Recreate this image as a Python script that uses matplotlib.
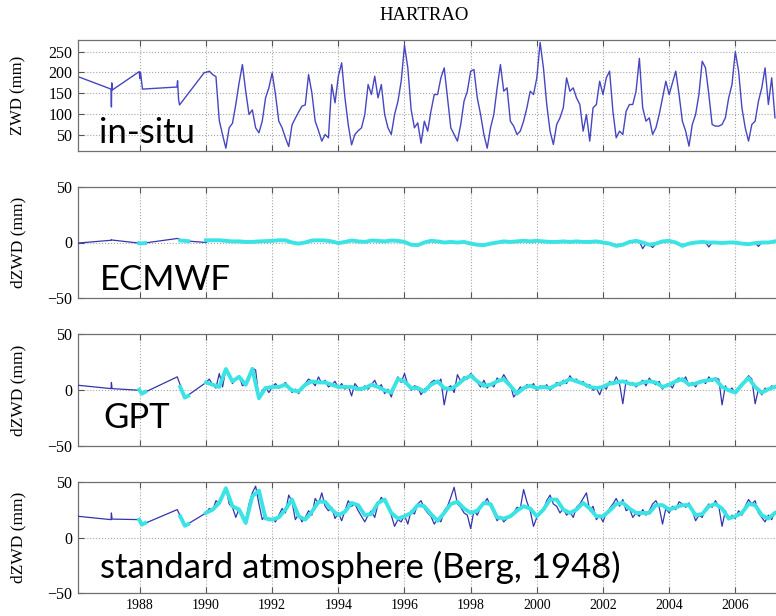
import matplotlib

matplotlib.use("Agg")
import matplotlib.pyplot as plt
import numpy as np

# sample epochs from 1990 on (tenths of a year)
years = [
    1990.0, 1990.1, 1990.2, 1990.3, 1990.4, 1990.5, 1990.6, 1990.7, 1990.8, 1990.9,
    1991.0, 1991.1, 1991.2, 1991.3, 1991.4, 1991.5, 1991.6, 1991.7, 1991.8, 1991.9,
    1992.0, 1992.1, 1992.2, 1992.3, 1992.4, 1992.5, 1992.6, 1992.7, 1992.8, 1992.9,
    1993.0, 1993.1, 1993.2, 1993.3, 1993.4, 1993.5, 1993.6, 1993.7, 1993.8, 1993.9,
    1994.0, 1994.1, 1994.2, 1994.3, 1994.4, 1994.5, 1994.6, 1994.7, 1994.8, 1994.9,
    1995.0, 1995.1, 1995.2, 1995.3, 1995.4, 1995.5, 1995.6, 1995.7, 1995.8, 1995.9,
    1996.0, 1996.1, 1996.2, 1996.3, 1996.4, 1996.5, 1996.6, 1996.7, 1996.8, 1996.9,
    1997.0, 1997.1, 1997.2, 1997.3, 1997.4, 1997.5, 1997.6, 1997.7, 1997.8, 1997.9,
    1998.0, 1998.1, 1998.2, 1998.3, 1998.4, 1998.5, 1998.6, 1998.7, 1998.8, 1998.9,
    1999.0, 1999.1, 1999.2, 1999.3, 1999.4, 1999.5, 1999.6, 1999.7, 1999.8, 1999.9,
    2000.0, 2000.1, 2000.2, 2000.3, 2000.4, 2000.5, 2000.6, 2000.7, 2000.8, 2000.9,
    2001.0, 2001.1, 2001.2, 2001.3, 2001.4, 2001.5, 2001.6, 2001.7, 2001.8, 2001.9,
    2002.0, 2002.1, 2002.2, 2002.3, 2002.4, 2002.5, 2002.6, 2002.7, 2002.8, 2002.9,
    2003.0, 2003.1, 2003.2, 2003.3, 2003.4, 2003.5, 2003.6, 2003.7, 2003.8, 2003.9,
    2004.0, 2004.1, 2004.2, 2004.3, 2004.4, 2004.5, 2004.6, 2004.7, 2004.8, 2004.9,
    2005.0, 2005.1, 2005.2, 2005.3, 2005.4, 2005.5, 2005.6, 2005.7, 2005.8, 2005.9,
    2006.0, 2006.1, 2006.2, 2006.3, 2006.4, 2006.5, 2006.6, 2006.7, 2006.8, 2006.9,
    2007.0, 2007.1, 2007.2,
]

# in-situ ZWD (mm)
insitu_early_years = [1986.13, 1987.13, 1987.14, 1987.15, 1987.17, 1987.98, 1988.0,
                      1988.02, 1988.08, 1989.12, 1989.14, 1989.17, 1989.2, 1989.95]
insitu_early_zwd = [190, 160, 117, 175, 158, 202, 185, 200, 160, 165, 180, 135, 122, 200]
insitu_zwd = [
    200, 203, 195, 190, 85, 50, 18, 67, 78, 123,
    175, 219, 155, 99, 110, 67, 55, 83, 139, 163,
    199, 147, 83, 67, 43, 22, 74, 90, 105, 119,
    122, 195, 151, 83, 60, 35, 51, 43, 171, 127,
    191, 223, 139, 74, 26, 51, 60, 67, 99, 171,
    147, 191, 139, 171, 99, 67, 51, 99, 130, 179,
    265, 211, 111, 67, 79, 30, 83, 59, 107, 147,
    147, 187, 211, 139, 67, 51, 35, 75, 131, 155,
    203, 207, 139, 99, 51, 18, 67, 99, 163, 219,
    155, 163, 83, 71, 51, 59, 83, 115, 155, 147,
    187, 272, 211, 123, 59, 27, 75, 91, 115, 187,
    155, 163, 139, 123, 59, 99, 35, 115, 123, 179,
    147, 187, 203, 107, 43, 59, 51, 107, 123, 123,
    155, 234, 115, 83, 91, 51, 67, 99, 139, 179,
    147, 175, 203, 147, 83, 59, 23, 75, 99, 147,
    227, 211, 147, 75, 71, 71, 75, 91, 139, 171,
    250, 203, 115, 67, 35, 75, 83, 131, 163, 211,
    123, 187, 91,
]

# dZWD (model minus in-situ), thin line, sparse early epochs
diff_early_years = [1986.13, 1987.13, 1987.14, 1987.16, 1988.0, 1988.06, 1989.13, 1989.36]
ecmwf_early = [-0.5, 2.0, 2.6, 2.2, -0.6, -0.8, 3.6, 1.5]
gpt_early = [4.5, 1.5, 7.0, 1.5, 0.0, -3.0, 12.0, -6.5]
stdatm_early = [19, 16, 22, 16.5, 16, 11.5, 25, 10.5]

ecmwf_diff = [
    0, 2, 2, 2, 2, 1.5, 1.5, 1, 1, 1,
    1, 0.5, 0.5, 0.5, 0.5, 0.5, 1, 1, 1.2, 1.5,
    1.5, 2, 2, 2, 2, 1, 0, -1, -1, -0.5,
    0, 1, 1.8, 2, 2, 2, 1.8, 1.5, 1, 0,
    -0.6, 0, 0.5, 1, 1.8, 1.5, 1, 1, 0.5, 1,
    1.8, 1.5, 1.5, 1.2, 1, 1.5, 1.8, 1.5, 1.5, 1,
    0.5, -1, -2, -2.2, -2.4, -1, 0, 1, 1.5, 1,
    1, 0.5, 0, 0, 0.5, 0.5, 0, 0, 0.5, 0.5,
    -1, -1.5, -2, -2.2, -2.4, -1.5, -1, -0.5, 0, 0.5,
    1, 0.5, 0.5, 1, 1, 1, 1.5, 1.5, 1, 1,
    1.5, 1, 1, 0.5, 0.5, 0.5, 0.5, 1, 1, 1,
    0.5, 1, 1, 0.5, 0.5, 0.5, 0.5, 1, 1, 0.5,
    0, -0.5, -1, -2, -3, -2.5, -2, -1, 0.5, 1,
    1.5, 1, -5.5, -1, -2, -4.5, -1, 0, 1, 1.5,
    1.5, 1, 0, -1.5, -3, -2, -1, -0.5, 0, 0,
    0.5, 0.2, -4, 0, 0, 0, -0.5, -0.5, 0, 0,
    0, -0.5, -1, -1, -1.5, -1, -0.5, -3.5, 0, 0,
    0, 0.5, 1,
]
gpt_diff = [
    7, 10, 5, 2, 15, 3, 19, 12, 6, 10,
    13, 4, 6, 9, 20, 18, -8, 0, 3, -2,
    3, 6, 2, 4, 7, 3, -2, 1, -3, 2,
    6, 10, 8, 4, 12, 6, 9, 3, 5, 8,
    2, 6, 1, 4, -5, 6, 2, 0, 4, 1,
    5, 9, 2, 5, -3, 1, -6, 4, 12, 7,
    15, 5, 0, 4, 3, -4, 1, 3, 7, 9,
    6, 10, -13, 2, 4, -2, 14, 8, 12, 10,
    15, 12, 7, 3, 9, 2, 6, 3, 11, 8,
    14, 9, 5, -6, -2, 3, 1, 5, 3, 6,
    0, 4, 2, 5, 0, 3, 7, 4, 9, 6,
    13, 9, 10, 6, 8, 3, 5, 0, 2, -4,
    4, 1, 8, 5, 12, 6, -12, 9, 5, 7,
    3, 6, 9, 4, 11, 7, 5, 8, 1, 5,
    6, 2, 9, 11, 8, 12, 4, 7, 3, 8,
    9, 6, 12, 8, 11, 10, -13, 4, -1, 2,
    -3, 1, 6, 9, 13, 10, -12, 1, -4, 2,
    0, 4, 2,
]
stdatm_diff = [
    22, 26, 24, 33, 30, 38, 45, 30, 27, 18,
    26, 21, 15, 30, 40, 46, 30, 16, 20, 15,
    17, 14, 20, 26, 22, 38, 32, 16, 21, 14,
    18, 24, 20, 35, 30, 40, 28, 24, 27, 17,
    22, 15, 24, 33, 28, 30, 24, 19, 14, 20,
    24, 18, 30, 36, 32, 28, 20, 10, 16, 14,
    20, 12, 24, 21, 30, 33, 26, 22, 19, 12,
    17, 14, 24, 28, 36, 45, 30, 27, 22, 20,
    8, 24, 20, 27, 30, 35, 28, 22, 15, 19,
    14, 17, 20, 22, 27, 26, 43, 32, 24, 10,
    18, 22, 25, 33, 38, 30, 28, 22, 26, 20,
    23, 18, 27, 30, 35, 40, 24, 28, 16, 20,
    14, 22, 26, 30, 35, 28, 34, 24, 26, 18,
    22, 19, 25, 20, 24, 30, 33, 27, 12, 26,
    22, 28, 25, 32, 30, 27, 31, 24, 15, 20,
    18, 26, 30, 27, 33, 28, 10, 24, 16, 20,
    17, 24, 20, 28, 34, 30, 33, 22, 18, 14,
    20, 16, 23,
]

# smoothed dZWD, thick cyan line, on every second epoch
nan = float("nan")
smooth_early_years = [1987.98, 1988.06, 1988.16, nan, 1989.22, 1989.36, 1989.46]
ecmwf_smooth_early = [-0.6, -0.8, -0.5, nan, 1.8, 1.5, 1.2]
gpt_smooth_early = [0.5, -3.0, -1.5, nan, 3.0, -6.5, -5.0]
stdatm_smooth_early = [16, 11.5, 13, nan, 19, 10.5, 12]

ecmwf_smooth = [
    2, 2, 2, 1.5, 1,
    1, 0.5, 0.5, 1, 1.2,
    1.5, 2, 2, 0, -1,
    0, 1.8, 2, 1.8, 1,
    -0.6, 0.5, 1.8, 1, 0.5,
    1.8, 1.5, 1, 1.8, 1.5,
    0.5, -2, -2.4, 0, 1.5,
    1, 0, 0.5, 0, 0.5,
    -1, -2, -2.4, -1, 0,
    1, 0.5, 1, 1.5, 1,
    1.5, 1, 0.5, 0.5, 1,
    0.5, 1, 0.5, 0.5, 1,
    0, -1, -3, -2, 0.5,
    1.5, 0, -2, -1, 1,
    1.5, 0, -3, -1, 0,
    0.5, 0, 0, -0.5, 0,
    0, -1, -1.5, -0.5, 0,
    0, 1,
]
gpt_smooth = [
    7, 5, 3, 19, 8,
    12, 5, 19, -7, 2,
    3, 3, 5, 0, -1,
    5, 8, 7, 7, 5,
    3, 3, 3, 1, 2,
    5, 3, 0, -2, 10,
    8, 2, 2, -1, 5,
    8, 2, 1, 5, 10,
    13, 8, 4, 5, 8,
    10, 4, -3, 2, 4,
    2, 3, 2, 5, 7,
    10, 8, 6, 3, 2,
    3, 6, 7, 8, 6,
    5, 7, 8, 7, 3,
    5, 8, 10, 5, 6,
    8, 9, 10, 3, 0,
    -2, 5, 11, 3, -2,
    1, 3,
]
stdatm_smooth = [
    22, 25, 31, 44, 28,
    25, 13, 37, 42, 17,
    16, 18, 25, 34, 19,
    16, 23, 32, 32, 25,
    20, 23, 31, 29, 20,
    21, 31, 34, 22, 17,
    19, 22, 29, 28, 21,
    15, 22, 30, 32, 26,
    22, 24, 31, 30, 18,
    17, 19, 24, 28, 26,
    19, 25, 34, 34, 25,
    22, 25, 31, 26, 19,
    19, 24, 30, 31, 26,
    22, 22, 22, 29, 29,
    25, 27, 29, 29, 20,
    21, 28, 30, 26, 17,
    19, 22, 30, 29, 20,
    17, 22,
]

SERIF = "Liberation Serif"
INSITU_COLOR = "#4646c2"
DIFF_COLOR = "#3434ae"
SMOOTH_COLOR = "#3be4e4"
W, H = 776, 616


def px_box(left, top, right, bottom):
    # figure pixel box -> [x0, y0, w, h] fractions
    return [left / W, 1 - bottom / H, (right - left) / W, (bottom - top) / H]


def style_axis(ax, ylim, yticks, ylabel, label_size, show_x):
    ax.set_xlim(1986.13, 2008.5)
    ax.set_ylim(*ylim)
    # the 2008 tick falls outside the cropped picture
    ax.set_xticks(range(1988, 2007, 2))
    ax.set_yticks(yticks)
    ax.grid(True, linestyle=":", color="#a6a6a6", linewidth=0.8)
    ax.tick_params(direction="in", top=True, right=True, length=4, width=0.8,
                   color="#555555", pad=4, labelbottom=show_x)
    ax.tick_params(axis="x", labelsize=10)
    ax.tick_params(axis="y", labelsize=11.5)
    for label in ax.get_xticklabels() + ax.get_yticklabels():
        label.set_family(SERIF)
    for spine in ax.spines.values():
        spine.set_color("#707070")
        spine.set_linewidth(0.9)
    ax.set_ylabel(ylabel, family=SERIF, fontsize=label_size)
    ax.yaxis.set_label_coords(-0.070, 0.5)


def main():
    fig = plt.figure(figsize=(W / 100, H / 100), dpi=100)
    right = 818  # the plot runs past the cropped right edge
    ax_top = fig.add_axes(px_box(78, 40, right, 150.7))
    ax_ecmwf = fig.add_axes(px_box(78, 186.7, right, 298.3))
    ax_gpt = fig.add_axes(px_box(78, 334.3, right, 446.3))
    ax_std = fig.add_axes(px_box(78, 481.7, right, 593.3))

    ax_top.plot(insitu_early_years + years, insitu_early_zwd + insitu_zwd,
                color=INSITU_COLOR, linewidth=1.0)
    style_axis(ax_top, (12, 278), [50, 100, 150, 200, 250], "ZWD (mm)", 12, False)

    smooth_years = years[::2]
    panels = [
        (ax_ecmwf, ecmwf_early, ecmwf_diff, ecmwf_smooth_early, ecmwf_smooth),
        (ax_gpt, gpt_early, gpt_diff, gpt_smooth_early, gpt_smooth),
        (ax_std, stdatm_early, stdatm_diff, stdatm_smooth_early, stdatm_smooth),
    ]
    for ax, early, diff, smooth_early, smooth in panels:
        ax.plot(diff_early_years + years, early + diff, color=DIFF_COLOR, linewidth=0.9, zorder=3)
        ax.plot(smooth_early_years, smooth_early, color=SMOOTH_COLOR, linewidth=2.8, zorder=4)
        ax.plot(smooth_years, smooth, color=SMOOTH_COLOR, linewidth=2.8, zorder=4)
        style_axis(ax, (-50, 50), [-50, 0, 50], "dZWD (mm)", 12.5, ax is ax_std)

    fig.text(424 / W, 1 - 15 / H, "HARTRAO", ha="center", va="center", family=SERIF, fontsize=13.5)

    # method labels drawn over the panels
    labels = [("in-situ", 99, 143), ("ECMWF", 100, 290), ("GPT", 103, 428),
              ("standard atmosphere (Berg, 1948)", 100, 578)]
    for text, x, y in labels:
        fig.text(x / W, 1 - y / H, text, ha="left", va="baseline",
                 family=["Lato", "DejaVu Sans"], fontsize=25, color="black")

    fig.savefig("out.png", dpi=100)
    plt.close(fig)


if __name__ == "__main__":
    main()
